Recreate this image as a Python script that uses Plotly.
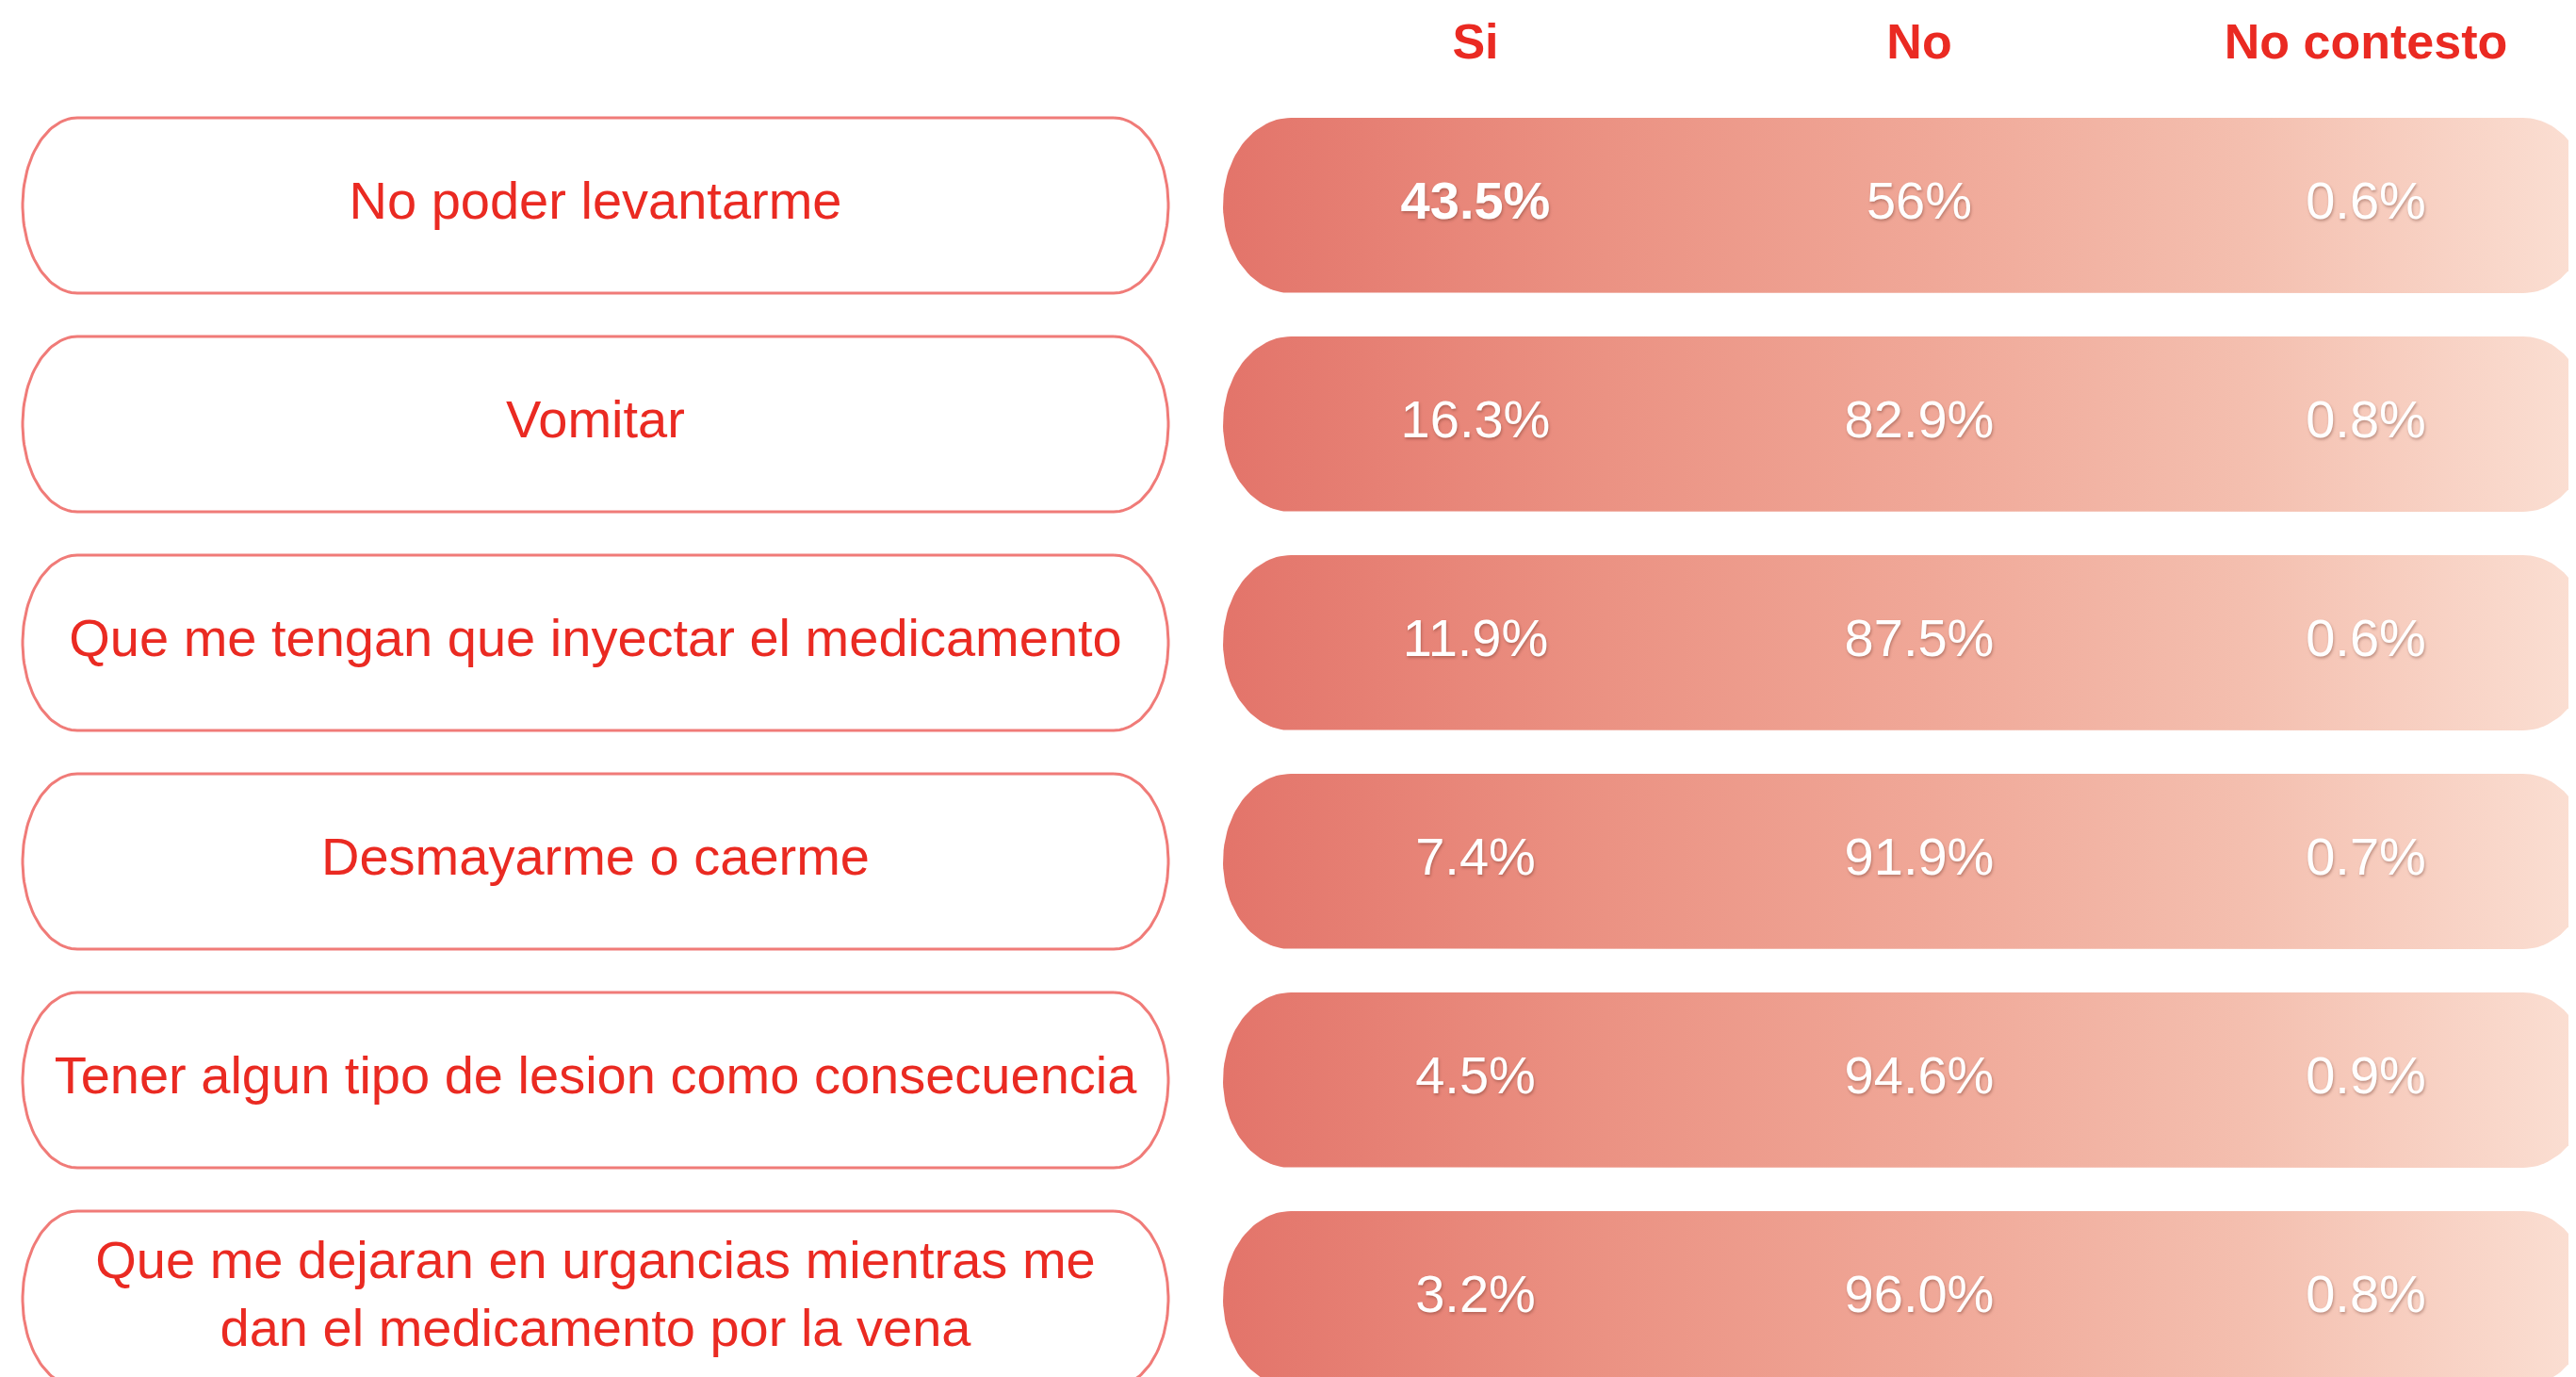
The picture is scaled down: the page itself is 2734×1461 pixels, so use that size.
import numpy as np
import plotly.graph_objects as go

# ---------------- data ----------------
categories = [
    "No poder levantarme",
    "Vomitar",
    "Que me tengan que inyectar el medicamento",
    "Desmayarme o caerme",
    "Tener algun tipo de lesion como consecuencia",
    "Que me dejaran en urgancias mientras me<br>dan el medicamento por la vena",
]
columns = ["Si", "No", "No contesto"]
si_vals = [43.5, 16.3, 11.9, 7.4, 4.5, 3.2]
no_vals = [56, 82.9, 87.5, 91.9, 94.6, 96.0]
nc_vals = [0.6, 0.8, 0.6, 0.7, 0.9, 0.8]

# ---------------- layout constants (page pixel space) ----------------
W, H = 2734, 1461
OFF = 8  # default body margin of the page
ROW0, ROW_STEP = 218, 232
PILL_H = 186
LEFT_X0, LEFT_X1, LEFT_RX = 24, 1240, 58
RIGHT_X0, RIGHT_X1, RIGHT_RX = 1298, 2750, 72
COL_X = [1566, 2037, 2511]
HEADER_Y = 49
RED = "#ea2a22"
FONT = "Liberation Sans, Arial, Helvetica, sans-serif"


def pill(x0, x1, cy, h, rx, n=60):
    ry = h / 2
    t = np.linspace(-np.pi / 2, np.pi / 2, n)
    xs, ys = [], []
    xs += list((x1 - rx) + rx * np.cos(t))
    ys += list(cy + ry * np.sin(t))
    t2 = np.linspace(np.pi / 2, 3 * np.pi / 2, n)
    xs += list((x0 + rx) + rx * np.cos(t2))
    ys += list(cy + ry * np.sin(t2))
    xs.append(xs[0])
    ys.append(ys[0])
    return xs, ys


fig = go.Figure()

for i, cat in enumerate(categories):
    cy = ROW0 + i * ROW_STEP
    xs, ys = pill(LEFT_X0, LEFT_X1, cy, PILL_H, LEFT_RX)
    fig.add_trace(go.Scatter(
        x=xs, y=ys, mode="lines", fill="toself", fillcolor="white",
        line=dict(color="#f07b78", width=3), hoverinfo="skip", showlegend=False))
    xs, ys = pill(RIGHT_X0, RIGHT_X1, cy, PILL_H, RIGHT_RX)
    fig.add_trace(go.Scatter(
        x=xs, y=ys, mode="lines", fill="toself",
        fillgradient=dict(type="horizontal", colorscale=[
            [0.0, "#e3746a"], [0.28, "#eb9283"], [0.52, "#f0a898"],
            [0.75, "#f4bfaf"], [1.0, "#fbe0d4"]]),
        line=dict(width=0, color="rgba(0,0,0,0)"), hoverinfo="skip", showlegend=False))

fig.add_trace(go.Scatter(
    x=[(LEFT_X0 + LEFT_X1) / 2] * len(categories),
    y=[ROW0 + i * ROW_STEP for i in range(len(categories))],
    mode="text", text=categories,
    textfont=dict(family=FONT, size=56, color=RED),
    hoverinfo="skip", showlegend=False))

for c, vals in enumerate([si_vals, no_vals, nc_vals]):
    texts = []
    for i, v in enumerate(vals):
        t = f"{v}%"
        if c == 0 and v == max(si_vals):
            t = f"<b>{t}</b>"
        texts.append(t)
    fig.add_trace(go.Scatter(
        x=[COL_X[c]] * len(vals),
        y=[ROW0 + i * ROW_STEP for i in range(len(vals))],
        mode="text", text=texts,
        textfont=dict(family=FONT, size=56, color="white",
                      shadow="1px 2px 3px rgba(90,40,30,0.35)"),
        hoverinfo="skip", showlegend=False))

fig.add_trace(go.Scatter(
    x=COL_X, y=[HEADER_Y] * len(columns), mode="text",
    text=[f"<b>{c}</b>" for c in columns],
    textfont=dict(family=FONT, size=52, color=RED),
    hoverinfo="skip", showlegend=False))

fig.update_layout(
    width=W, height=H,
    margin=dict(l=0, r=0, t=0, b=0),
    paper_bgcolor="white", plot_bgcolor="white",
    xaxis=dict(range=[OFF, W + OFF], visible=False, fixedrange=True),
    yaxis=dict(range=[H + OFF, OFF], visible=False, fixedrange=True),
)

fig.write_html("out.html")
